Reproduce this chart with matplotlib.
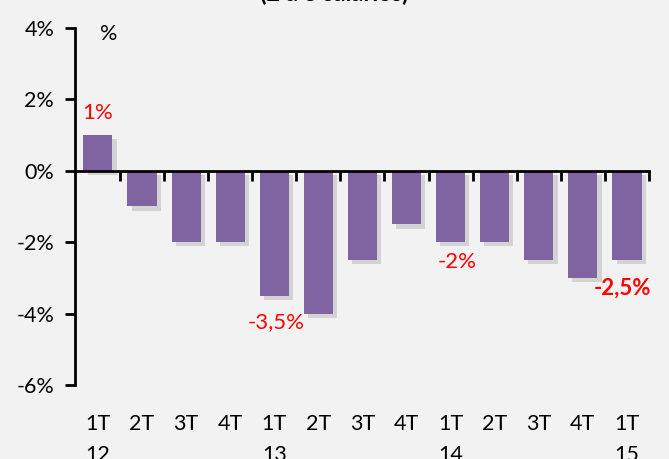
import matplotlib
matplotlib.use("Agg")
import matplotlib.pyplot as plt
import matplotlib.patheffects as pe
from matplotlib.transforms import blended_transform_factory

plt.rcParams['font.family'] = ['Lato', 'DejaVu Sans']

quarters = ["1T", "2T", "3T", "4T", "1T", "2T", "3T", "4T", "1T", "2T", "3T", "4T", "1T"]
years = ["12", "", "", "", "13", "", "", "", "14", "", "", "", "15"]
values = [1, -1, -2, -2, -3.5, -4, -2.5, -1.5, -2, -2, -2.5, -3, -2.5]
yticks = [4, 2, 0, -2, -4, -6]
ytick_labels = ["4%", "2%", "0%", "-2%", "-4%", "-6%"]
annotations = [(0, "1%"), (4, "-3,5%"), (8, "-2%"), (12, "-2,5%")]

W, H = 669, 459
bg = "#f2f2f2"
fig = plt.figure(figsize=(W / 100, H / 100), dpi=100, facecolor=bg)
ax = fig.add_axes([75 / W, (H - 385) / H, (649 - 75) / W, (385 - 28) / H], facecolor=bg)

x = list(range(len(values)))
bars = ax.bar(x, values, width=0.66, color="#8064A2", zorder=3)
for b in bars:
    b.set_path_effects([pe.SimplePatchShadow(offset=(3, -3), shadow_rgbFace="#9a9a9a", alpha=0.35), pe.Normal()])

ax.set_xlim(-0.52, 12.5)
ax.set_ylim(-6, 4)

for s in ["top", "right"]:
    ax.spines[s].set_visible(False)
ax.spines["left"].set_linewidth(2)
ax.spines["bottom"].set_position(("data", 0))
ax.spines["bottom"].set_linewidth(2)
ax.spines["bottom"].set_zorder(4)

ax.set_yticks(yticks)
ax.set_yticklabels(ytick_labels, fontsize=15.5)
ax.tick_params(axis="y", direction="out", length=7, width=2, pad=8)

ax.set_xticks([i + 0.5 for i in range(len(values))])
ax.set_xticklabels([])
ax.tick_params(axis="x", direction="out", length=7, width=2)

trans = blended_transform_factory(ax.transData, ax.transAxes)
for i, (q, yy) in enumerate(zip(quarters, years)):
    ax.text(i, -0.08, q, transform=trans, ha="center", va="top", fontsize=15.5)
    if yy:
        ax.text(i, -0.168, yy, transform=trans, ha="center", va="top", fontsize=15.5)

offsets = {0: (0.0, 0.35), 4: (0.04, -0.75), 8: (0.14, -0.55), 12: (-0.1, -0.78)}
for i, txt in annotations:
    v = values[i]
    dx, dy = offsets[i]
    bold = (i == len(values) - 1)
    if v > 0:
        ax.text(i + dx, v + dy, txt, ha="center", va="bottom", color="red", fontsize=16)
    else:
        ax.text(i + dx, v + dy, txt, ha="center", va="center", color="red",
                fontsize=16, fontweight="bold" if bold else "normal")

ax.text(0.058, 0.983, "%", transform=ax.transAxes, ha="center", va="center", fontsize=15.5)

fig.text(334 / W, 1 - 5 / H, "(2 a 3 salarios)", ha="center", va="bottom", fontsize=17, fontweight="bold")

fig.savefig("out.png", dpi=100, facecolor=bg)
